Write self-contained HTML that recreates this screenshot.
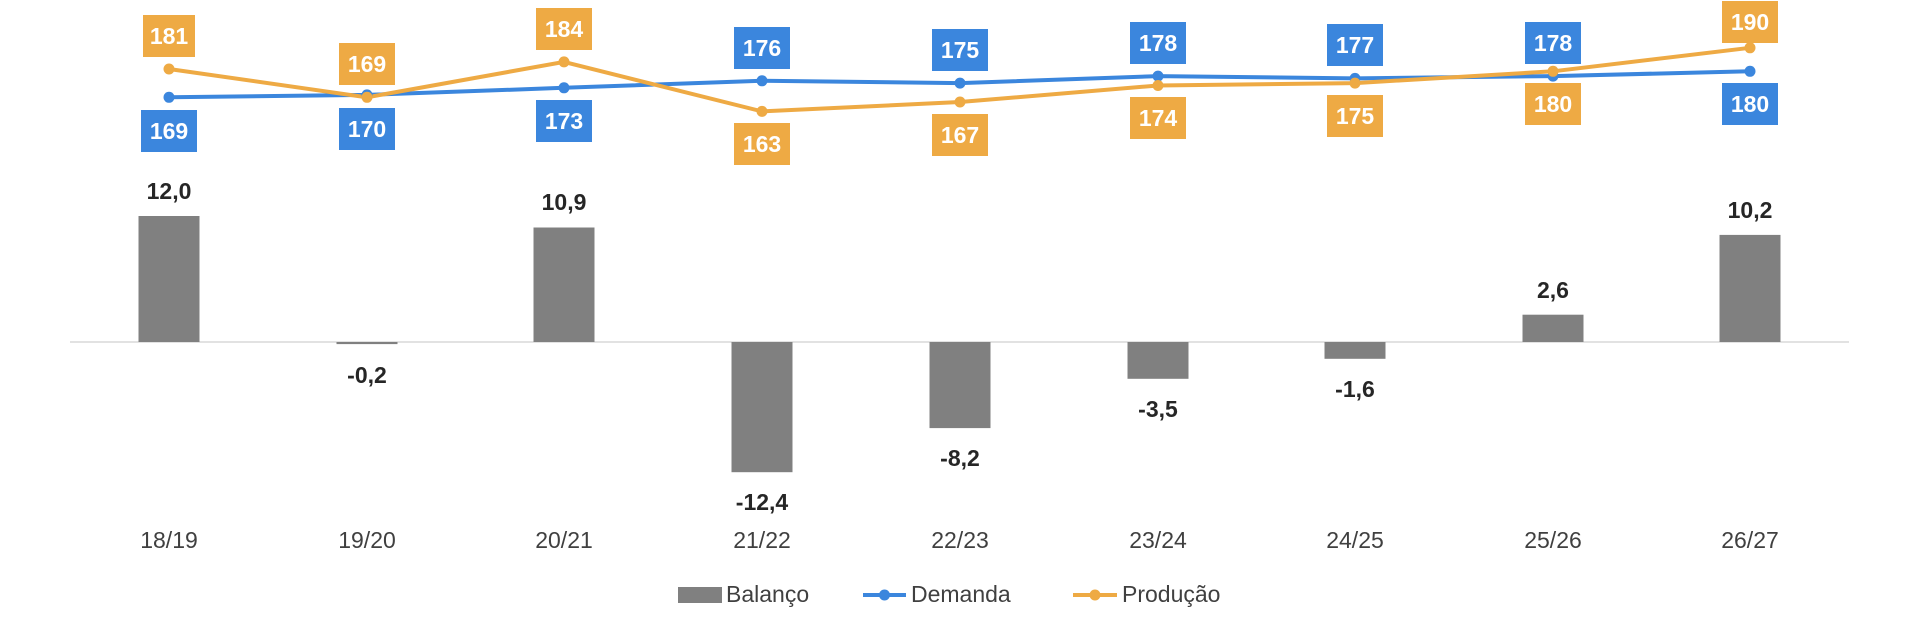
<!DOCTYPE html>
<html><head><meta charset="utf-8"><style>
html,body{margin:0;padding:0;background:#fff;}
svg{display:block;font-family:"Liberation Sans",sans-serif;}
.lb{font-weight:bold;font-size:23px;fill:#fff;text-anchor:middle;}
.v{font-weight:bold;font-size:23px;fill:#262626;text-anchor:middle;}
.c{font-size:23px;fill:#404040;text-anchor:middle;}
.lg{font-size:23px;fill:#404040;}
</style></head><body>
<svg width="1920" height="632" viewBox="0 0 1920 632">
<line x1="70" y1="342" x2="1849" y2="342" stroke="#d9d9d9" stroke-width="1.5"/>
<g fill="#808080">
<rect x="138.5" y="216" width="61" height="126"/>
<rect x="336.5" y="342" width="61" height="2.1"/>
<rect x="533.5" y="227.5" width="61" height="114.5"/>
<rect x="731.5" y="342" width="61" height="130.2"/>
<rect x="929.5" y="342" width="61" height="86.1"/>
<rect x="1127.5" y="342" width="61" height="36.8"/>
<rect x="1324.5" y="342" width="61" height="16.8"/>
<rect x="1522.5" y="314.7" width="61" height="27.3"/>
<rect x="1719.5" y="234.9" width="61" height="107.1"/>
</g>
<g class="v">
<text x="169" y="199">12,0</text>
<text x="367" y="383">-0,2</text>
<text x="564" y="210">10,9</text>
<text x="762" y="510">-12,4</text>
<text x="960" y="466">-8,2</text>
<text x="1158" y="417">-3,5</text>
<text x="1355" y="397">-1,6</text>
<text x="1553" y="298">2,6</text>
<text x="1750" y="218">10,2</text>
</g>
<polyline fill="none" stroke="#3b86dd" stroke-width="4" points="169,97.3 367,94.9 564,87.8 762,80.8 960,83.1 1158,76.1 1355,78.4 1553,76.1 1750,71.3"/>
<polyline fill="none" stroke="#eeaa44" stroke-width="4" points="169,69 367,97.3 564,61.9 762,111.4 960,102 1158,85.5 1355,83.1 1553,71.3 1750,47.8"/>
<g fill="#3b86dd">
<circle cx="169" cy="97.3" r="5.5"/><circle cx="367" cy="94.9" r="5.5"/><circle cx="564" cy="87.8" r="5.5"/><circle cx="762" cy="80.8" r="5.5"/><circle cx="960" cy="83.1" r="5.5"/><circle cx="1158" cy="76.1" r="5.5"/><circle cx="1355" cy="78.4" r="5.5"/><circle cx="1553" cy="76.1" r="5.5"/><circle cx="1750" cy="71.3" r="5.5"/>
</g>
<g fill="#eeaa44">
<circle cx="169" cy="69" r="5.5"/><circle cx="367" cy="97.3" r="5.5"/><circle cx="564" cy="61.9" r="5.5"/><circle cx="762" cy="111.4" r="5.5"/><circle cx="960" cy="102" r="5.5"/><circle cx="1158" cy="85.5" r="5.5"/><circle cx="1355" cy="83.1" r="5.5"/><circle cx="1553" cy="71.3" r="5.5"/><circle cx="1750" cy="47.8" r="5.5"/>
</g>
<!-- orange labels -->
<g fill="#eeaa44">
<rect x="143" y="15" width="52" height="42"/>
<rect x="339" y="43" width="56" height="42"/>
<rect x="536" y="8" width="56" height="42"/>
<rect x="734" y="123" width="56" height="42"/>
<rect x="932" y="114" width="56" height="42"/>
<rect x="1130" y="97" width="56" height="42"/>
<rect x="1327" y="95" width="56" height="42"/>
<rect x="1525" y="83" width="56" height="42"/>
<rect x="1722" y="1" width="56" height="42"/>
</g>
<g fill="#3b86dd">
<rect x="141" y="110" width="56" height="42"/>
<rect x="339" y="108" width="56" height="42"/>
<rect x="536" y="100" width="56" height="42"/>
<rect x="734" y="27" width="56" height="42"/>
<rect x="932" y="29" width="56" height="42"/>
<rect x="1130" y="22" width="56" height="42"/>
<rect x="1327" y="24" width="56" height="42"/>
<rect x="1525" y="22" width="56" height="42"/>
<rect x="1722" y="83" width="56" height="42"/>
</g>
<g class="lb">
<text x="169" y="44">181</text><text x="367" y="72">169</text><text x="564" y="37">184</text>
<text x="762" y="152">163</text><text x="960" y="143">167</text><text x="1158" y="126">174</text>
<text x="1355" y="124">175</text><text x="1553" y="112">180</text><text x="1750" y="30">190</text>
<text x="169" y="139">169</text><text x="367" y="137">170</text><text x="564" y="129">173</text>
<text x="762" y="56">176</text><text x="960" y="58">175</text><text x="1158" y="51">178</text>
<text x="1355" y="53">177</text><text x="1553" y="51">178</text><text x="1750" y="112">180</text>
</g>
<g class="c">
<text x="169" y="548">18/19</text><text x="367" y="548">19/20</text><text x="564" y="548">20/21</text>
<text x="762" y="548">21/22</text><text x="960" y="548">22/23</text><text x="1158" y="548">23/24</text>
<text x="1355" y="548">24/25</text><text x="1553" y="548">25/26</text><text x="1750" y="548">26/27</text>
</g>
<rect x="678" y="587" width="44" height="16" fill="#808080"/>
<text class="lg" x="726" y="602">Balanço</text>
<line x1="863" y1="595" x2="906" y2="595" stroke="#3b86dd" stroke-width="4"/>
<circle cx="884.5" cy="595" r="5.5" fill="#3b86dd"/>
<text class="lg" x="911" y="602">Demanda</text>
<line x1="1073" y1="595" x2="1117" y2="595" stroke="#eeaa44" stroke-width="4"/>
<circle cx="1095" cy="595" r="5.5" fill="#eeaa44"/>
<text class="lg" x="1122" y="602">Produção</text>
</svg>
</body></html>
